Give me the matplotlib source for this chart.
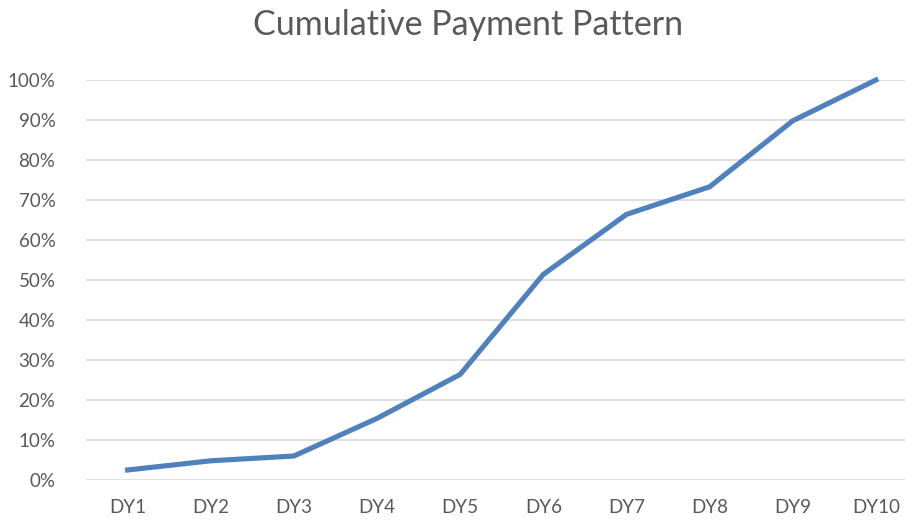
import matplotlib
matplotlib.use("Agg")
import matplotlib.pyplot as plt
from matplotlib.ticker import PercentFormatter

categories = ["DY1", "DY2", "DY3", "DY4", "DY5", "DY6", "DY7", "DY8", "DY9", "DY10"]
cumulative = [0.025, 0.048, 0.060, 0.154, 0.264, 0.514, 0.664, 0.733, 0.898, 1.000]
yticks = [0, 0.1, 0.2, 0.3, 0.4, 0.5, 0.6, 0.7, 0.8, 0.9, 1.0]
title = "Cumulative Payment Pattern"

W, H = 905, 522
fig = plt.figure(figsize=(W / 100, H / 100), dpi=100)
left, right, top, bottom = 86, 917.5, 80, 480
ax = fig.add_axes([left / W, 1 - bottom / H, (right - left) / W, (bottom - top) / H])

x = list(range(len(categories)))
ax.plot(x, cumulative, color="#4f81bd", linewidth=3.7, solid_joinstyle="miter", clip_on=False, zorder=3)

ax.set_xlim(-0.5, len(categories) - 0.5)
ax.set_ylim(0, 1)
ax.set_yticks(yticks)
ax.yaxis.set_major_formatter(PercentFormatter(1.0, decimals=0))
ax.set_xticks(x)
ax.set_xticklabels(categories)
ax.grid(axis="y", color="#d9d9d9", linewidth=1.2, zorder=0)
for s in ax.spines.values():
    s.set_visible(False)
ax.tick_params(axis="both", length=0, labelcolor="#595959", labelsize=13.5)
ax.tick_params(axis="y", pad=22)
ax.tick_params(axis="x", pad=14)
for lbl in ax.get_xticklabels() + ax.get_yticklabels():
    lbl.set_fontfamily("Lato")

fig.text(468 / W, 1 - 25 / H, title, ha="center", va="center", fontsize=24.5,
         color="#595959", fontfamily="Lato")

fig.savefig("out.png", dpi=100, facecolor="white")
